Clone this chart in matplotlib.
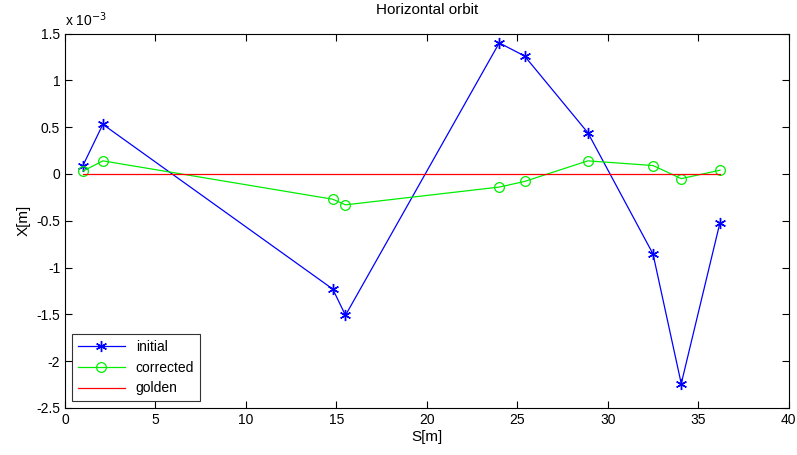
import numpy as np
import matplotlib
matplotlib.use('Agg')
import matplotlib.pyplot as plt
from matplotlib.ticker import FuncFormatter

plt.rcParams['font.family'] = ['Liberation Sans', 'DejaVu Sans']

# BPM positions and orbit readings (m)
s = [0.99, 2.09, 14.8, 15.5, 24.0, 25.4, 28.9, 32.5, 34.06, 36.2]
x_initial = [0.09e-3, 0.53e-3, -1.23e-3, -1.51e-3, 1.40e-3, 1.26e-3, 0.44e-3, -0.855e-3, -2.24e-3, -0.52e-3]
x_corrected = [0.03e-3, 0.14e-3, -0.27e-3, -0.33e-3, -0.14e-3, -0.08e-3, 0.14e-3, 0.09e-3, -0.05e-3, 0.04e-3]
x_golden = [0.0] * len(s)

fig = plt.figure(figsize=(7.97, 4.55), dpi=100)
ax = fig.add_axes([0.0816, 0.1033, 0.908, 0.823])

ax.plot(s, x_initial, color='#0000ff', marker=(6, 2, 0), markersize=8, mew=1.0, lw=0.9, label='initial')
ax.plot(s, x_corrected, color='#00ee00', marker='o', markersize=7, mfc='none', mew=0.9, lw=0.9, label='corrected')
ax.plot(s, x_golden, color='#ff0000', lw=0.9, label='golden')

ax.set_xlim(0, 40)
ax.set_ylim(-2.5e-3, 1.5e-3)
ax.set_xticks(np.arange(0, 41, 5))
ax.set_yticks(np.arange(-2.5e-3, 1.51e-3, 0.5e-3))
ax.yaxis.set_major_formatter(FuncFormatter(lambda v, p: f'{v*1e3:g}'))
ax.tick_params(direction='in', top=True, right=True, labelsize=10, length=5, width=0.8)
for sp in ax.spines.values():
    sp.set_linewidth(0.8)

ax.text(0.0, 1.012, r'x 10$^{-3}$', transform=ax.transAxes, fontsize=10, ha='left', va='bottom')
ax.set_title('Horizontal orbit', fontsize=11, pad=14)
ax.set_xlabel('S[m]', fontsize=11, labelpad=2)
ax.set_ylabel('X[m]', fontsize=11, labelpad=4)

leg = ax.legend(loc='lower left', fontsize=10, fancybox=False, edgecolor='black',
                borderaxespad=0.5, handlelength=3.4, labelspacing=0.5, borderpad=0.4)
leg.get_frame().set_linewidth(0.8)

fig.savefig('out.png', dpi=100)
